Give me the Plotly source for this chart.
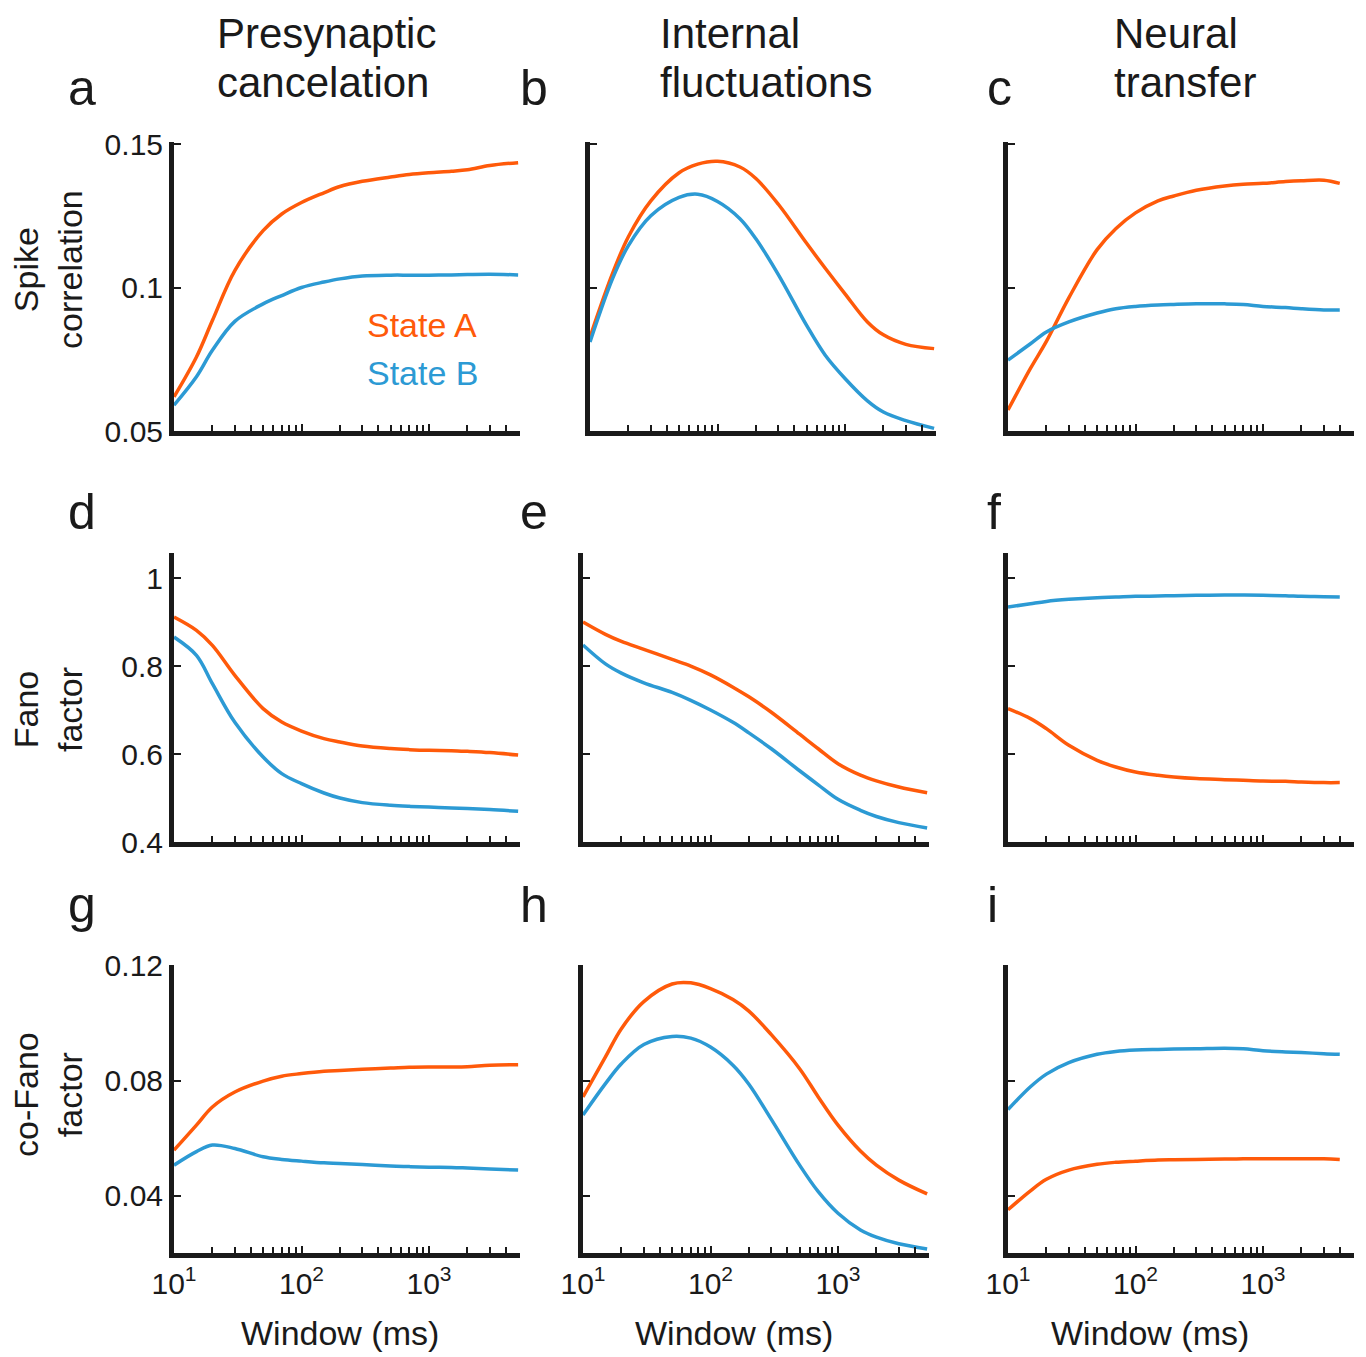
import plotly.graph_objects as go

# ---------------- data ----------------
window_ms = [10, 15, 20, 30, 50, 70, 100, 150, 200, 300, 500, 700, 1000, 1500, 2000, 3000, 5000]
window_ms_c3 = [10, 15, 20, 30, 50, 70, 100, 150, 200, 300, 500, 700, 1000, 1500, 2000, 3000, 4000]

# Spike correlation
a_stateA = [0.0619, 0.0758, 0.0885, 0.1059, 0.1198, 0.1256, 0.1296, 0.1330, 0.1352, 0.1370, 0.1385, 0.1394, 0.1400, 0.1405, 0.1410, 0.1425, 0.1435]
a_stateB = [0.0590, 0.0689, 0.0781, 0.0882, 0.0943, 0.0972, 0.1000, 0.1019, 0.1030, 0.1040, 0.1043, 0.1043, 0.1043, 0.1044, 0.1045, 0.1046, 0.1044]
b_stateA = [0.0827, 0.1048, 0.1177, 0.1302, 0.1400, 0.1430, 0.1440, 0.1420, 0.1380, 0.1290, 0.1154, 0.1067, 0.0978, 0.0880, 0.0835, 0.0802, 0.0787]
b_stateB = [0.0810, 0.1030, 0.1146, 0.1250, 0.1314, 0.1325, 0.1300, 0.1240, 0.1170, 0.1045, 0.0868, 0.0764, 0.0683, 0.0605, 0.0566, 0.0536, 0.0509]
c_stateA = [0.0573, 0.0718, 0.0812, 0.0964, 0.1132, 0.1205, 0.1260, 0.1302, 0.1319, 0.1339, 0.1354, 0.1360, 0.1363, 0.1369, 0.1372, 0.1374, 0.1363]
c_stateB = [0.0747, 0.0804, 0.0845, 0.0880, 0.0911, 0.0926, 0.0934, 0.0939, 0.0941, 0.0943, 0.0943, 0.0941, 0.0934, 0.0930, 0.0926, 0.0922, 0.0922]

# Fano factor
d_stateA = [0.9114, 0.8811, 0.8470, 0.7789, 0.7032, 0.6727, 0.6523, 0.6350, 0.6273, 0.6182, 0.6123, 0.6100, 0.6084, 0.6077, 0.6061, 0.6032, 0.5977]
d_stateB = [0.8659, 0.8243, 0.7600, 0.6720, 0.5932, 0.5555, 0.5327, 0.5114, 0.5000, 0.4895, 0.4834, 0.4811, 0.4795, 0.4773, 0.4759, 0.4736, 0.4698]
e_stateA = [0.900, 0.872, 0.856, 0.838, 0.815, 0.800, 0.780, 0.752, 0.730, 0.695, 0.645, 0.612, 0.578, 0.552, 0.539, 0.525, 0.512]
e_stateB = [0.848, 0.805, 0.784, 0.762, 0.740, 0.722, 0.700, 0.672, 0.648, 0.612, 0.562, 0.530, 0.497, 0.472, 0.458, 0.444, 0.432]
f_stateA = [0.7032, 0.6805, 0.6577, 0.6198, 0.5857, 0.5705, 0.5591, 0.5516, 0.5477, 0.5441, 0.5418, 0.5402, 0.5386, 0.5380, 0.5364, 0.5350, 0.5350]
f_stateB = [0.9340, 0.9418, 0.9470, 0.9516, 0.9555, 0.9568, 0.9584, 0.9592, 0.9600, 0.9607, 0.9614, 0.9614, 0.9607, 0.9600, 0.9584, 0.9577, 0.9568]

# co-Fano factor
g_stateA = [0.0559, 0.0646, 0.0709, 0.0761, 0.0799, 0.0816, 0.0825, 0.0833, 0.0836, 0.0840, 0.0844, 0.0847, 0.0848, 0.0848, 0.0849, 0.0854, 0.0856]
g_stateB = [0.0507, 0.0554, 0.0577, 0.0565, 0.0536, 0.0527, 0.0521, 0.0515, 0.0513, 0.0509, 0.0504, 0.0502, 0.0500, 0.0499, 0.0497, 0.0494, 0.0490]
h_stateA = [0.0744, 0.0883, 0.0981, 0.1075, 0.1136, 0.1140, 0.1120, 0.1082, 0.1042, 0.0960, 0.0842, 0.0744, 0.0646, 0.0556, 0.0507, 0.0455, 0.0407]
h_stateB = [0.0681, 0.0790, 0.0859, 0.0926, 0.0954, 0.0948, 0.0917, 0.0854, 0.0788, 0.0666, 0.0507, 0.0415, 0.0340, 0.0282, 0.0257, 0.0234, 0.0216]
i_stateA = [0.0352, 0.0418, 0.0458, 0.0490, 0.0510, 0.0517, 0.0521, 0.0525, 0.0526, 0.0527, 0.0528, 0.0529, 0.0529, 0.0529, 0.0529, 0.0529, 0.0527]
i_stateB = [0.0700, 0.0779, 0.0823, 0.0863, 0.0892, 0.0902, 0.0907, 0.0909, 0.0910, 0.0911, 0.0913, 0.0911, 0.0904, 0.0900, 0.0898, 0.0894, 0.0892]

column_titles = [("Presynaptic", "cancelation"), ("Internal", "fluctuations"), ("Neural", "transfer")]
row_titles = ["Spike<br>correlation", "Fano<br>factor", "co-Fano<br>factor"]
panel_letters = ["a", "b", "c", "d", "e", "f", "g", "h", "i"]
legend_labels = ["State A", "State B"]
x_title = "Window (ms)"

row_yticks = [[0.05, 0.1, 0.15], [0.4, 0.6, 0.8, 1.0], [0.04, 0.08, 0.12]]
row_yticktext = [["0.05", "0.1", "0.15"], ["0.4", "0.6", "0.8", "1"], ["0.04", "0.08", "0.12"]]
x_major = [10, 100, 1000]
x_major_text = ["10<sup>1</sup>", "10<sup>2</sup>", "10<sup>3</sup>"]
x_minor = [20, 30, 40, 50, 60, 70, 80, 90, 200, 300, 400, 500, 600, 700, 800, 900, 2000, 3000, 4000]

# ---------------- style ----------------
PAGE_W, PAGE_H = 1366, 1357
OFF = 8  # default page body margin
W, H = PAGE_W - OFF, PAGE_H - OFF
ORANGE = "#FF5A0A"
BLUE = "#2C9AD4"
INK = "#1a1a1a"
FONT = "Liberation Sans, Arial, sans-serif"

def fx(px):
    return (px - OFF) / W

def fy(py):
    return 1 - (py - OFF) / H

row_y_px = [(142, 431), (553, 842), (965, 1253)]
row_ranges = [[0.05, 0.1507], [0.4, 1.057], [0.0202, 0.1202]]
col_x_px = [
    [(174, 520), (590, 936), (1008, 1354)],
    [(174, 520), (583, 929), (1008, 1354)],
    [(174, 520), (583, 929), (1008, 1354)],
]

panels = [
    [(window_ms, a_stateA, a_stateB), (window_ms, b_stateA, b_stateB), (window_ms_c3, c_stateA, c_stateB)],
    [(window_ms, d_stateA, d_stateB), (window_ms, e_stateA, e_stateB), (window_ms_c3, f_stateA, f_stateB)],
    [(window_ms, g_stateA, g_stateB), (window_ms, h_stateA, h_stateB), (window_ms_c3, i_stateA, i_stateB)],
]

fig = go.Figure()
layout = dict(
    template="none",
    width=W, height=H, autosize=False,
    margin=dict(l=0, r=0, t=0, b=0, pad=0, autoexpand=False),
    paper_bgcolor="white", plot_bgcolor="white",
    showlegend=False,
    font=dict(family=FONT, color=INK),
)

k = 0
for r in range(3):
    for c in range(3):
        k += 1
        xs, ya, yb = panels[r][c]
        xa = "x" if k == 1 else f"x{k}"
        yax = "y" if k == 1 else f"y{k}"
        for ys, col, name in [(ya, ORANGE, legend_labels[0]), (yb, BLUE, legend_labels[1])]:
            fig.add_trace(go.Scatter(
                x=xs, y=ys, mode="lines", name=name,
                line=dict(color=col, width=3.5, shape="spline", smoothing=1.0),
                xaxis=xa, yaxis=yax, hoverinfo="skip",
            ))
        x0, x1 = col_x_px[r][c]
        y0, y1 = row_y_px[r]
        xkey = "xaxis" if k == 1 else f"xaxis{k}"
        ykey = "yaxis" if k == 1 else f"yaxis{k}"
        layout[xkey] = dict(
            type="log", range=[1, 1 + (x1 - x0) / 127.5],
            domain=[fx(x0), min(1.0, fx(x1))], anchor=yax, automargin=False,
            showline=True, linewidth=5, linecolor=INK,
            showgrid=False, zeroline=False,
            ticks="inside", ticklen=7, tickwidth=2, tickcolor=INK,
            tickvals=x_major, ticktext=x_major_text,
            showticklabels=(r == 2),
            tickfont=dict(size=30, color=INK, family=FONT),
            minor=dict(tickvals=x_minor, ticks="inside", ticklen=6, tickwidth=2, tickcolor=INK, showgrid=False),
            fixedrange=True,
        )
        layout[ykey] = dict(
            range=row_ranges[r],
            domain=[fy(y1), fy(y0)], anchor=xa, automargin=False,
            showline=True, linewidth=5, linecolor=INK,
            showgrid=False, zeroline=False,
            ticks="inside", ticklen=7, tickwidth=2, tickcolor=INK,
            tickvals=row_yticks[r], ticktext=row_yticktext[r],
            showticklabels=(c == 0),
            tickfont=dict(size=30, color=INK, family=FONT),
            fixedrange=True,
        )

annotations = []
# column headings (two separate lines for precise spacing)
for cx, (l1, l2) in zip([215, 658, 1112], column_titles):
    for cy, t in [(34, l1), (83, l2)]:
        annotations.append(dict(x=fx(cx), y=fy(cy), xref="paper", yref="paper", xanchor="left", yanchor="middle",
                                text=t, showarrow=False, align="left", font=dict(size=42, color=INK, family=FONT)))
# panel letters
letter_pos = [(66, 88), (518, 88), (985, 88), (66, 512), (518, 512), (985, 512), (66, 905), (518, 905), (985, 905)]
for (lx, ly), t in zip(letter_pos, panel_letters):
    annotations.append(dict(x=fx(lx), y=fy(ly), xref="paper", yref="paper", xanchor="left", yanchor="middle",
                            text=t, showarrow=False, font=dict(size=50, color=INK, family=FONT)))
# row titles
for cy, t in zip([270, 710, 1095], row_titles):
    annotations.append(dict(x=fx(48), y=fy(cy), xref="paper", yref="paper", xanchor="center", yanchor="middle",
                            text=t, textangle=-90, showarrow=False, align="center",
                            font=dict(size=34, color=INK, family=FONT)))
# x titles
for cx in [340, 734, 1150]:
    annotations.append(dict(x=fx(cx), y=fy(1333), xref="paper", yref="paper", xanchor="center", yanchor="middle",
                            text=x_title, showarrow=False, font=dict(size=34, color=INK, family=FONT)))
# legend text
annotations.append(dict(x=fx(365), y=fy(325), xref="paper", yref="paper", xanchor="left", yanchor="middle",
                        text=legend_labels[0], showarrow=False, font=dict(size=34, color=ORANGE, family=FONT)))
annotations.append(dict(x=fx(365), y=fy(373), xref="paper", yref="paper", xanchor="left", yanchor="middle",
                        text=legend_labels[1], showarrow=False, font=dict(size=34, color=BLUE, family=FONT)))

layout["annotations"] = annotations
fig.update_layout(**layout)
fig.write_html("out.html")
